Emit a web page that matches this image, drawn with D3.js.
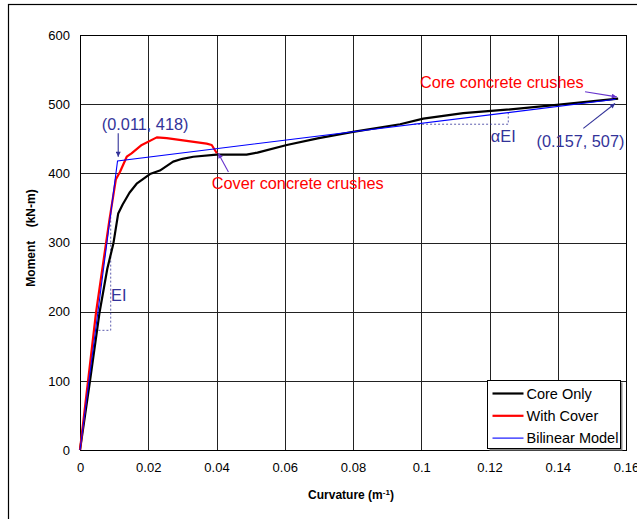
<!DOCTYPE html>
<html>
<head>
<meta charset="utf-8">
<script src="https://cdn.jsdelivr.net/npm/d3@7/dist/d3.min.js"></script>
<style>
  body { margin: 0; background: #fff; }
  svg { display: block; font-family: Arial, "Liberation Sans", sans-serif; }
</style>
</head>
<body>
<svg id="chart" width="637" height="519"></svg>
<script>
// curvature (1/m) and moment (kN-m)
const coreX = [0, 0.0029, 0.0057, 0.0080, 0.0098, 0.0112, 0.0125, 0.0145, 0.0166, 0.0205, 0.0234, 0.0273, 0.0300, 0.0332, 0.0400, 0.0488, 0.0520, 0.0606, 0.0700, 0.0800, 0.0938, 0.1006, 0.1123, 0.1250, 0.1397, 0.1577];
const coreY = [0, 99, 198, 262, 299, 342, 355, 372, 385, 399, 404, 417, 421, 424, 427, 427, 430, 441, 451, 460, 471, 479, 487, 492, 499, 508];
const coverX = [0, 0.0047, 0.0086, 0.0105, 0.0117, 0.0137, 0.0151, 0.0181, 0.0225, 0.0254, 0.0371, 0.0386, 0.0401];
const coverY = [0, 199, 332, 391, 402, 424, 429, 441, 452, 451, 443, 441, 429];
const bilinX = [0, 0.011, 0.157];
const bilinY = [0, 418, 507];

const xTicks = [0, 0.02, 0.04, 0.06, 0.08, 0.1, 0.12, 0.14, 0.16];
const yTicks = [0, 100, 200, 300, 400, 500, 600];

const svg = d3.select('#chart');
const margin = { left: 80, top: 35, right: 637 - 626, bottom: 519 - 450 };
const width = 637 - margin.left - margin.right;
const height = 519 - margin.top - margin.bottom;

const x = d3.scaleLinear().domain([0, 0.16]).range([0, width]);
const y = d3.scaleLinear().domain([0, 600]).range([height, 0]);

const navy = '#333399';
const purple = '#6633cc';

// outer frame (runs off the right/bottom edge)
svg.append('rect')
    .attr('x', 8.5).attr('y', 4.5)
    .attr('width', 700).attr('height', 600)
    .attr('fill', 'none').attr('stroke', '#000').attr('stroke-width', 1.2);

const defs = svg.append('defs');
[['arrNavy', navy], ['arrPurple', purple]].forEach(([id, c]) => {
    defs.append('marker')
        .attr('id', id)
        .attr('viewBox', '0 0 10 10')
        .attr('refX', 10).attr('refY', 5)
        .attr('markerWidth', 7).attr('markerHeight', 5)
        .attr('markerUnits', 'userSpaceOnUse')
        .attr('orient', 'auto')
        .append('path')
        .attr('d', 'M0,0L10,5L0,10z')
        .attr('fill', c);
});

const g = svg.append('g')
    .attr('transform', `translate(${margin.left},${margin.top})`);

// grid
g.selectAll('.vgrid').data(xTicks).enter().append('line')
    .attr('x1', d => Math.round(x(d)) + 0.5).attr('x2', d => Math.round(x(d)) + 0.5)
    .attr('y1', 0).attr('y2', height)
    .attr('stroke', '#222').attr('stroke-width', 1);
g.selectAll('.hgrid').data(yTicks).enter().append('line')
    .attr('y1', d => Math.round(y(d)) + 0.5).attr('y2', d => Math.round(y(d)) + 0.5)
    .attr('x1', 0).attr('x2', width)
    .attr('stroke', '#222').attr('stroke-width', 1);

// axes
const xAxis = g.append('g')
    .attr('transform', `translate(0,${height})`)
    .call(d3.axisBottom(x).tickValues(xTicks).tickSize(0).tickPadding(13).tickFormat(d => d3.format('')(+d.toFixed(2))));
const yAxis = g.append('g')
    .call(d3.axisLeft(y).tickValues(yTicks).tickSize(0).tickPadding(10));
[xAxis, yAxis].forEach(a => {
    a.select('.domain').remove();
    a.selectAll('text').attr('font-size', 13).attr('fill', '#000')
        .attr('font-family', 'Arial, "Liberation Sans", sans-serif');
});

g.append('rect').attr('x', 0.5).attr('y', 0.5)
    .attr('width', width).attr('height', height)
    .attr('fill', 'none').attr('stroke', '#000').attr('stroke-width', 1);

// axis titles
svg.append('text')
    .attr('x', margin.left + width / 2 - 2).attr('y', 499)
    .attr('text-anchor', 'middle').attr('font-size', 12).attr('font-weight', 'bold')
    .text('Curvature (m')
    .append('tspan').attr('baseline-shift', 'super').attr('font-size', 8).text('-1')
    .select(function () { return this.parentNode; })
    .append('tspan').text(')');
svg.append('text')
    .attr('transform', 'translate(35,238) rotate(-90)')
    .attr('text-anchor', 'middle').attr('font-size', 12).attr('font-weight', 'bold')
    .attr('xml:space', 'preserve')
    .text('Moment    (kN-m)');

// dashed slope triangles
const dash = (pts) => g.append('path')
    .attr('d', d3.line().x(p => x(p[0])).y(p => y(p[1]))(pts))
    .attr('fill', 'none').attr('stroke', navy).attr('stroke-width', 0.8)
    .attr('stroke-dasharray', '2,2');
dash([[0.0054, 173], [0.0090, 173], [0.0090, 342]]);
dash([[0.0979, 471], [0.1255, 471], [0.1255, 488]]);

// series
const line = (xs, ys) => d3.line().x((d, i) => x(xs[i])).y((d, i) => y(ys[i]))(xs);
g.append('path').attr('d', line(coreX, coreY))
    .attr('fill', 'none').attr('stroke', '#000').attr('stroke-width', 2.2).attr('stroke-linejoin', 'round');
g.append('path').attr('d', line(coverX, coverY))
    .attr('fill', 'none').attr('stroke', '#ff0000').attr('stroke-width', 2.2).attr('stroke-linejoin', 'round');
g.append('path').attr('d', line(bilinX, bilinY))
    .attr('fill', 'none').attr('stroke', '#0000ff').attr('stroke-width', 1.1);

// annotations
const labels = [
    { t: '(0.011, 418)', cx: 0.0064, cy: 462, c: navy },
    { t: 'Cover concrete crushes', cx: 0.0386, cy: 378, c: '#ff0000' },
    { t: 'Core concrete crushes', cx: 0.0996, cy: 523, c: '#ff0000' },
    { t: 'αEI', cx: 0.1204, cy: 445.5, c: navy },
    { t: '(0.157, 507)', cx: 0.1338, cy: 438.5, c: navy },
    { t: 'EI', cx: 0.0091, cy: 216, c: navy }
];
g.selectAll('.ann').data(labels).enter().append('text')
    .attr('x', d => x(d.cx)).attr('y', d => y(d.cy))
    .attr('font-size', 16.3).attr('fill', d => d.c)
    .text(d => d.t);

const arrows = [
    { from: [0.0112, 458], to: [0.0112, 424], c: navy, m: 'arrNavy' },
    { from: [0.0435, 402], to: [0.0405, 429], c: purple, m: 'arrPurple' },
    { from: [0.148, 518], to: [0.1573, 510.5], c: purple, m: 'arrPurple' },
    { from: [0.1475, 465], to: [0.1568, 501], c: navy, m: 'arrNavy' }
];
g.selectAll('.arrow').data(arrows).enter().append('line')
    .attr('x1', d => x(d.from[0])).attr('y1', d => y(d.from[1]))
    .attr('x2', d => x(d.to[0])).attr('y2', d => y(d.to[1]))
    .attr('stroke', d => d.c).attr('stroke-width', 1.1)
    .attr('marker-end', d => `url(#${d.m})`);

// legend
const legendItems = [
    { name: 'Core Only', c: '#000', w: 2.2 },
    { name: 'With Cover', c: '#ff0000', w: 2.2 },
    { name: 'Bilinear Model', c: '#0000ff', w: 1.1 }
];
const lg = svg.append('g').attr('transform', 'translate(487.5,380.5)');
lg.append('rect').attr('x', 2).attr('y', 2).attr('width', 133).attr('height', 68).attr('fill', '#888');
lg.append('rect').attr('width', 133).attr('height', 68)
    .attr('fill', '#fff').attr('stroke', '#000').attr('stroke-width', 1);
legendItems.forEach((d, i) => {
    const yy = 13 + i * 22.3;
    lg.append('line').attr('x1', 5).attr('x2', 36).attr('y1', yy).attr('y2', yy)
        .attr('stroke', d.c).attr('stroke-width', d.w);
    lg.append('text').attr('x', 39).attr('y', yy + 5)
        .attr('font-size', 14.5).attr('fill', '#000').text(d.name);
});
</script>
</body>
</html>
